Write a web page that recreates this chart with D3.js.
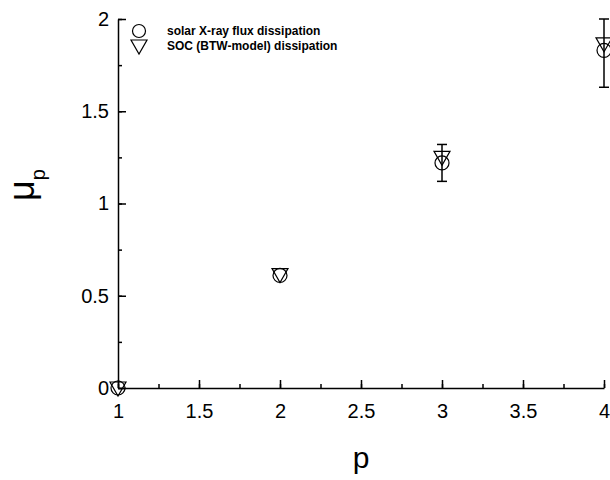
<!DOCTYPE html>
<html><head><meta charset="utf-8">
<script src="https://cdn.jsdelivr.net/npm/d3@7"></script>
<style>body{margin:0;background:#fff}svg{display:block}text{font-family:"Liberation Sans",Arial,sans-serif}</style>
</head><body>
<svg id="c" width="610" height="480"></svg>
<script>
const pValues = [1, 2, 3, 4];
const solarMu = [0, 0.61, 1.22, 1.83];
const solarErr = [0, 0, 0.10, 0.20];
const socMu = [0, 0.615, 1.25, 1.865];
const xTicks = [1, 1.5, 2, 2.5, 3, 3.5, 4];
const yTicks = [0, 0.5, 1, 1.5, 2];
const legendLabels = ["solar X-ray flux dissipation", "SOC (BTW-model) dissipation"];

const svg = d3.select("#c");
const x = d3.scaleLinear().domain([1, 4]).range([118, 604]);
const y = d3.scaleLinear().domain([0, 2]).range([388, 19]);

const fmt = d => String(d);
// minor ticks
svg.append("g").attr("transform", "translate(0,388)")
  .call(d3.axisBottom(x).tickValues(d3.range(1, 4.01, 0.25)).tickSizeInner(-4).tickSizeOuter(0).tickFormat(""))
  .call(g => g.select(".domain").remove())
  .selectAll("line").attr("stroke-width", 1.5);
svg.append("g").attr("transform", "translate(118,0)")
  .call(d3.axisLeft(y).tickValues(d3.range(0, 2.01, 0.25)).tickSizeInner(-4).tickSizeOuter(0).tickFormat(""))
  .call(g => g.select(".domain").remove())
  .selectAll("line").attr("stroke-width", 1.5);
// major
const gx = svg.append("g").attr("transform", "translate(0,388)")
  .call(d3.axisBottom(x).tickValues(xTicks).tickSizeInner(-8).tickSizeOuter(0).tickPadding(16).tickFormat(fmt));
gx.select(".domain").attr("stroke-width", 1.5);
gx.selectAll("line").attr("stroke-width", 1.5);
gx.selectAll("text").attr("font-size", 20).attr("fill", "#000");
const gy = svg.append("g").attr("transform", "translate(118,0)")
  .call(d3.axisLeft(y).tickValues(yTicks).tickSizeInner(-8).tickSizeOuter(0).tickPadding(9).tickFormat(fmt));
gy.select(".domain").attr("stroke-width", 1.5);
gy.selectAll("line").attr("stroke-width", 1.5);
gy.selectAll("text").attr("font-size", 20).attr("fill", "#000");

// axis titles
svg.append("text").attr("x", 361).attr("y", 468).attr("text-anchor", "middle")
  .attr("font-size", 30).text("p");
const yl = svg.append("text").attr("transform", "translate(34,185) rotate(-90)")
  .attr("text-anchor", "middle").attr("font-size", 36);
yl.append("tspan").text("μ");
yl.append("tspan").attr("font-size", 20).attr("dy", 11).text("p");

// error bars
const eb = svg.append("g").attr("stroke", "#000").attr("stroke-width", 1.5);
pValues.forEach((p, i) => {
  if (!solarErr[i]) return;
  const cx = x(p), y1 = y(solarMu[i] - solarErr[i]), y2 = y(Math.min(2, solarMu[i] + solarErr[i]));
  eb.append("line").attr("x1", cx).attr("x2", cx).attr("y1", y1).attr("y2", y2);
  eb.append("line").attr("x1", cx - 5).attr("x2", cx + 5).attr("y1", y1).attr("y2", y1);
  eb.append("line").attr("x1", cx - 5).attr("x2", cx + 5).attr("y1", y2).attr("y2", y2);
});

const tri = (cx, cy) => `M${cx - 8},${cy - 6}L${cx + 8},${cy - 6}L${cx},${cy + 8}Z`;
svg.append("g").selectAll("circle").data(pValues).join("circle")
  .attr("cx", d => x(d)).attr("cy", (d, i) => y(solarMu[i])).attr("r", 7)
  .attr("fill", "none").attr("stroke", "#000").attr("stroke-width", 1.2);
svg.append("g").selectAll("path").data(pValues).join("path")
  .attr("d", (d, i) => tri(x(d), y(socMu[i])))
  .attr("fill", "none").attr("stroke", "#000").attr("stroke-width", 1.2);

// legend
const lg = svg.append("g");
lg.append("circle").attr("cx", 139).attr("cy", 31).attr("r", 6.5).attr("fill", "none").attr("stroke", "#000").attr("stroke-width", 1.2);
lg.append("path").attr("d", tri(139, 46)).attr("fill", "none").attr("stroke", "#000").attr("stroke-width", 1.2);
legendLabels.forEach((t, i) => {
  lg.append("text").attr("x", 167).attr("y", 35 + i * 15).attr("font-size", 12).attr("font-weight", "bold").text(t);
});
</script>
</body></html>
